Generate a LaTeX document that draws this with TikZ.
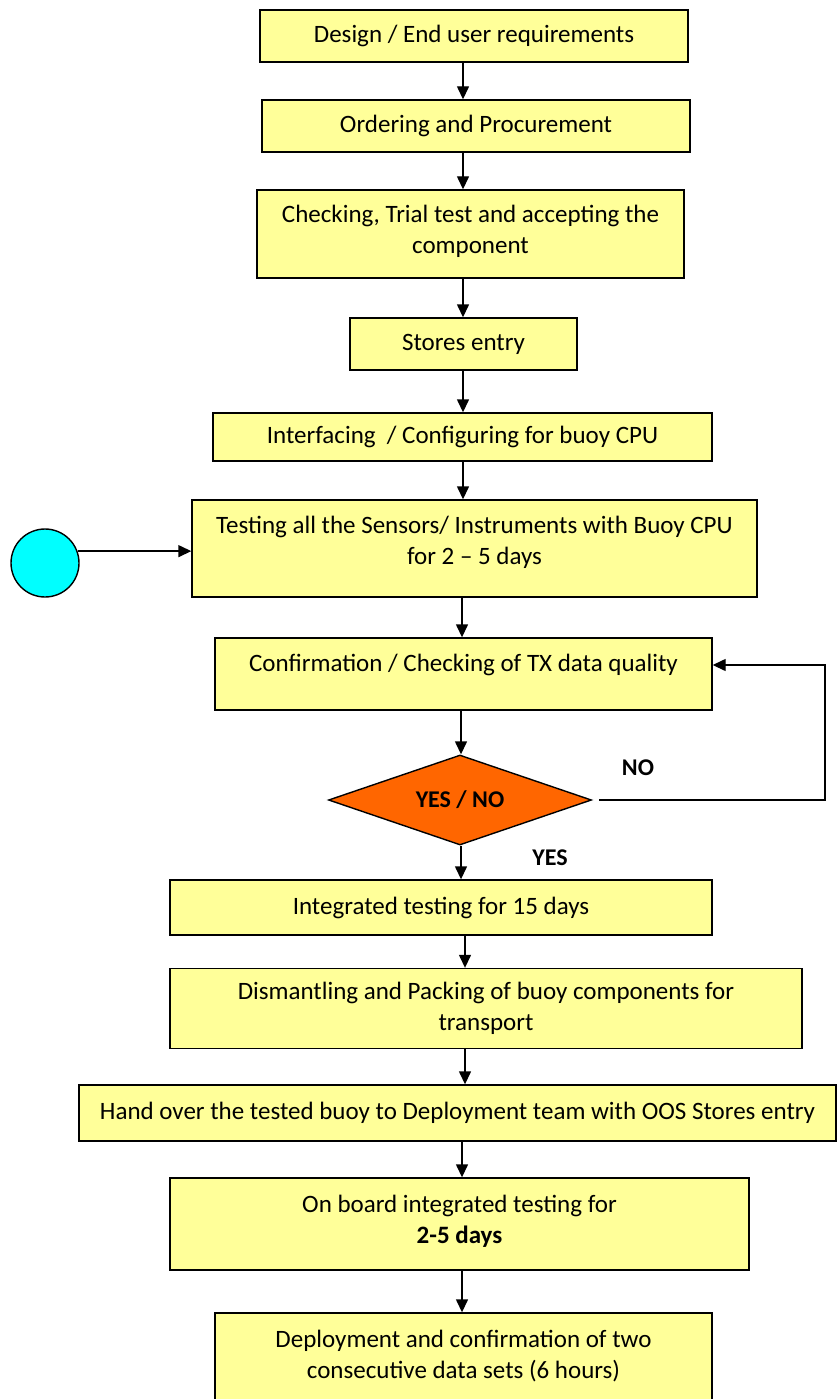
\documentclass[tikz,border=0pt]{standalone}
\usepackage{fontspec}
\setmainfont{Carlito}
\usetikzlibrary{shapes.geometric,arrows.meta}
\definecolor{boxyellow}{HTML}{FFFF99}
\definecolor{dorange}{HTML}{FF6600}
\definecolor{ccyan}{HTML}{00FFFF}
\begin{document}
\begin{tikzpicture}[x=1pt,y=-1pt,
  box/.style={draw=black, line width=1.4pt, fill=boxyellow, inner sep=0pt, align=center,
    font=\fontsize{25}{31}\selectfont},
  txt/.style={inner sep=0pt, align=center, font=\fontsize{25}{31}\selectfont},
  arr/.style={line width=1.4pt, -{Triangle[length=13pt,width=12pt]}},
  lbl/.style={font=\fontsize{24}{28}\selectfont\bfseries, inner sep=0pt}]
\useasboundingbox (0,0) rectangle (837,1399);
\begin{scope}
\clip (0,0) rectangle (837,1399);
\node[box, minimum width=428pt, minimum height=52pt] (n1) at (474,36) {Design / End user requirements};
\node[box, minimum width=428pt, minimum height=52pt] (n2) at (476,126) {Ordering and Procurement};
\node[box, minimum width=427pt, minimum height=88pt] (n3) at (470.5,234) {};
\node[txt] (n3t) at ([yshift=2.5pt]n3.center) {Checking, Trial test and accepting the\\component};
\node[box, minimum width=227pt, minimum height=52pt] (n4) at (463.5,344) {Stores entry};
\node[box, minimum width=499pt, minimum height=48pt] (n5) at (462.5,437) {Interfacing \ / Configuring for buoy CPU};
\node[box, minimum width=565pt, minimum height=97pt] (n6) at (474.5,548.5) {};
\node[txt] (n6t) at ([yshift=6pt]n6.center) {Testing all the Sensors/ Instruments with Buoy CPU\\for 2 -- 5 days};
\node[box, minimum width=497pt, minimum height=72pt] (n7) at (463.5,674) {};
\node[txt] (n7t) at ([yshift=9pt]n7.center) {Confirmation / Checking of TX data quality};
\node[draw=black, line width=1.4pt, fill=dorange, diamond, aspect=2.92, minimum width=263pt, minimum height=90pt, inner sep=0pt,
  font=\fontsize{24}{28}\selectfont\bfseries] (d) at (460,800) {YES / NO};
\node[box, minimum width=542pt, minimum height=55pt] (n8) at (441,907.5) {Integrated testing for 15 days};
\node[box, minimum width=632pt, minimum height=80pt] (n9) at (486,1008.5) {Dismantling and Packing of buoy components for\\transport};
\node[box, minimum width=757pt, minimum height=56pt] (n10) at (457.5,1113) {Hand over the tested buoy to Deployment team with OOS Stores entry};
\node[box, minimum width=579pt, minimum height=92pt] (n11) at (459.5,1224) {};
\node[txt] (n11t) at ([yshift=3pt]n11.center) {On board integrated testing for\\\textbf{2-5 days}};
\node[box, minimum width=497pt, minimum height=100pt] (n12) at (463.5,1363) {};
\node[txt] (n12t) at ([yshift=7pt]n12.center) {Deployment and confirmation of two\\consecutive data sets (6 hours)};
\end{scope}
\node[circle, draw=black, line width=1.4pt, fill=ccyan, minimum size=68pt, inner sep=0pt] (c) at (45,563) {};
\node[lbl] (no) at (638,768) {NO};
\node[lbl] (yes) at (550,858) {YES};
\coordinate (loop) at (825,0);
% arrows
\coordinate (a1) at (463,0);
\draw[arr] (n1.south -| a1) -- (n2.north -| a1);
\draw[arr] (n2.south -| a1) -- (n3.north -| a1);
\draw[arr] (n3.south -| a1) -- (n4.north -| a1);
\draw[arr] (n4.south -| a1) -- (n5.north -| a1);
\draw[arr] (n5.south -| a1) -- (n6.north -| a1);
\coordinate (a2) at (462,0);
\draw[arr] (n6.south -| a2) -- (n7.north -| a2);
\coordinate (a3) at (461,0);
\draw[arr] (n7.south -| a3) -- (d.north -| a3);
\draw[arr] (d.south -| a3) -- (n8.north -| a3);
\coordinate (a4) at (465,0);
\draw[arr] (n8.south -| a4) -- (n9.north -| a4);
\draw[arr] (n9.south -| a4) -- (n10.north -| a4);
\coordinate (a5) at (462,0);
\draw[arr] (n10.south -| a5) -- (n11.north -| a5);
\draw[arr] (n11.south -| a5) -- (n12.north -| a5);
\draw[arr] (c.20) -- (c.20 -| n6.west);
\coordinate (y7) at (0,665);
\draw[arr, shorten <=7pt] (d.east) -- (d.east -| loop) -- (loop |- y7) -- (n7.east |- y7);
\end{tikzpicture}
\end{document}
